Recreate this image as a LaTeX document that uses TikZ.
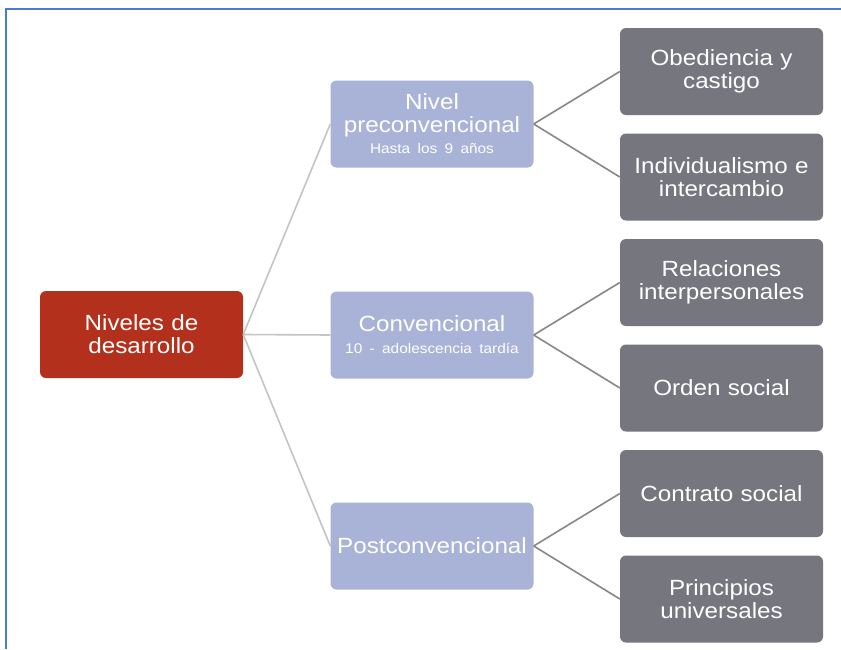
\documentclass[tikz,border=0pt]{standalone}
\usepackage{fontspec}
\setmainfont{Liberation Sans}[FakeStretch=1.1]
\definecolor{rootred}{HTML}{B3301D}
\definecolor{midblue}{HTML}{A8B3D7}
\definecolor{leafgray}{HTML}{76777E}
\definecolor{framebl}{HTML}{4A7BD0}
\definecolor{linelight}{HTML}{C4C4C8}
\definecolor{linedark}{HTML}{86878D}
\begin{document}
\begin{tikzpicture}[x=1pt,y=-1pt,
  box/.style={rounded corners=6pt,minimum width=203pt,minimum height=87pt,inner sep=2pt,
    text=white,align=center,font=\fontsize{22}{23}\selectfont,text width=195pt},
  rootbox/.style={box,fill=rootred},
  midbox/.style={box,fill=midblue},
  leafbox/.style={box,fill=leafgray},
  conlight/.style={draw=linelight,line width=1.6pt},
  condark/.style={draw=linedark,line width=1.6pt},
  sub/.style={font=\fontsize{14}{16}\selectfont}]
\useasboundingbox (0,0) rectangle (841,649);
\fill[white] (0,0) rectangle (841,649);
\draw[framebl,line width=2pt] (6,649) -- (6,9) -- (841,9);
\node[rootbox] (root) at (141.5,334.5) {Niveles de\\desarrollo};
\node[midbox] (pre) at (432,124) {Nivel\\preconvencional\\[-2pt]{\fontsize{14}{16}\selectfont Hasta los 9 años}};
\node[midbox] (conv) at (432,335) {Convencional\\[-1pt]{\fontsize{14}{16}\selectfont 10 - adolescencia tardía}};
\node[midbox] (post) at (432,546) {Postconvencional};
\node[leafbox] (l1) at (721.5,71.5) {Obediencia y\\castigo};
\node[leafbox] (l2) at (721.5,177) {Individualismo e\\intercambio};
\node[leafbox] (l3) at (721.5,282.5) {Relaciones\\interpersonales};
\node[leafbox] (l4) at (721.5,388) {Orden social};
\node[leafbox] (l5) at (721.5,493.5) {Contrato social};
\node[leafbox] (l6) at (721.5,599) {Principios\\universales};
\draw[conlight] (root.east) -- (pre.west);
\draw[conlight] (root.east) -- (conv.west);
\draw[conlight] (root.east) -- (post.west);
\draw[condark] (pre.east) -- (l1.west);
\draw[condark] (pre.east) -- (l2.west);
\draw[condark] (conv.east) -- (l3.west);
\draw[condark] (conv.east) -- (l4.west);
\draw[condark] (post.east) -- (l5.west);
\draw[condark] (post.east) -- (l6.west);
\end{tikzpicture}
\end{document}
